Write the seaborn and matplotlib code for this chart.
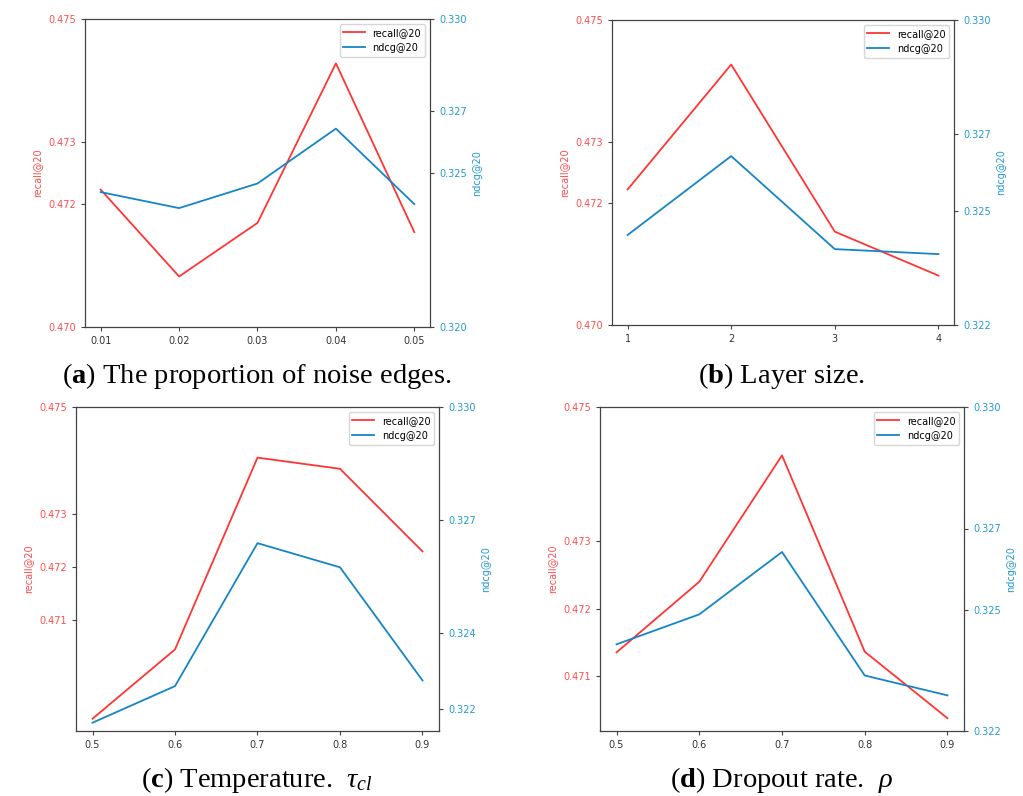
import matplotlib
matplotlib.use("Agg")
import matplotlib.pyplot as plt
import seaborn as sns

# Data
noise_x = [0.01, 0.02, 0.03, 0.04, 0.05]
noise_recall = [0.47223, 0.47082, 0.47169, 0.47428, 0.47154]
noise_ndcg = [0.32438, 0.32386, 0.32466, 0.32644, 0.32399]

layer_x = [1, 2, 3, 4]
layer_recall = [0.47222, 0.47427, 0.47153, 0.47081]
layer_ndcg = [0.32436, 0.32643, 0.32399, 0.32386]

temp_x = [0.5, 0.6, 0.7, 0.8, 0.9]
temp_recall = [0.46915, 0.47045, 0.47405, 0.47384, 0.47229]
temp_ndcg = [0.32163, 0.32260, 0.32639, 0.32575, 0.32275]

drop_x = [0.5, 0.6, 0.7, 0.8, 0.9]
drop_recall = [0.47135, 0.47240, 0.47428, 0.47136, 0.47037]
drop_ndcg = [0.32414, 0.32488, 0.32642, 0.32337, 0.32288]

captions = [r"($\mathbf{a}$) The proportion of noise edges.",
            r"($\mathbf{b}$) Layer size.",
            r"($\mathbf{c}$) Temperature.  $\tau_{cl}$",
            r"($\mathbf{d}$) Dropout rate.  $\rho$"]

left_ticks = [[0.470, 0.472, 0.473, 0.475], [0.470, 0.472, 0.473, 0.475],
              [0.471, 0.472, 0.473, 0.475], [0.471, 0.472, 0.473, 0.475]]
right_ticks = [[0.320, 0.325, 0.327, 0.330], [0.322, 0.325, 0.327, 0.330],
               [0.322, 0.324, 0.327, 0.330], [0.322, 0.325, 0.327, 0.330]]
left_lims = [(0.470, 0.475), (0.470, 0.475), (0.46892, 0.475), (0.47018, 0.475)]
right_lims = [(0.320, 0.330), (0.322, 0.330), (0.32141, 0.330), (0.322, 0.330)]

plt.rcParams['mathtext.fontset'] = 'custom'
plt.rcParams['mathtext.rm'] = 'Liberation Serif'
plt.rcParams['mathtext.it'] = 'Liberation Serif:italic'
plt.rcParams['mathtext.bf'] = 'Liberation Serif:bold'

RED_LINE, RED_TXT = '#ff3535', '#ff4d4d'
BLUE_LINE, BLUE_TXT = '#1585c7', '#2299d4'

fig = plt.figure(figsize=(10.23, 7.96), dpi=100)
W, H = 1023, 796

# axes boxes in pixels: left, top, right, bottom
boxes = [(85, 19, 430, 327), (612, 20, 954, 325),
         (76, 407, 439, 731), (600, 407, 964, 731)]
cap_pos = [(257, 376), (782, 376), (257, 780), (781, 780)]

panels = [(noise_x, noise_recall, noise_ndcg),
          (layer_x, layer_recall, layer_ndcg),
          (temp_x, temp_recall, temp_ndcg),
          (drop_x, drop_recall, drop_ndcg)]

for i, (xs, rec, nd) in enumerate(panels):
    l, t, r, b = boxes[i]
    ax = fig.add_axes([l / W, 1 - b / H, (r - l) / W, (b - t) / H])
    ax2 = ax.twinx()
    sns.lineplot(x=xs, y=rec, ax=ax, color=RED_LINE, linewidth=1.3, label='recall@20', legend=False)
    sns.lineplot(x=xs, y=nd, ax=ax2, color=BLUE_LINE, linewidth=1.3, label='ndcg@20', legend=False)

    ax.set_ylim(*left_lims[i])
    ax2.set_ylim(*right_lims[i])
    ax.set_yticks(left_ticks[i])
    ax.set_yticklabels([f"{v:.3f}" for v in left_ticks[i]])
    ax2.set_yticks(right_ticks[i])
    ax2.set_yticklabels([f"{v:.3f}" for v in right_ticks[i]])
    ax.set_xticks(xs)
    ax.set_xticklabels([str(v) for v in xs])

    ax.tick_params(axis='y', labelsize=7, labelcolor=RED_TXT, color='#444444', length=3)
    ax.tick_params(axis='x', labelsize=7, labelcolor='#333333', color='#444444', length=3)
    ax2.tick_params(axis='y', labelsize=7, labelcolor=BLUE_TXT, color='#444444', length=3)

    ax.set_ylabel('recall@20', color=RED_TXT, fontsize=7)
    ax2.set_ylabel('ndcg@20', color=BLUE_TXT, fontsize=7)
    ax.set_xlabel('')
    for sp in ax2.spines.values():
        sp.set_color('#444444')

    h1, l1 = ax.get_legend_handles_labels()
    h2, l2 = ax2.get_legend_handles_labels()
    ax2.legend(h1 + h2, l1 + l2, loc='upper right', fontsize=7, handlelength=2.2)

    cx, cy = cap_pos[i]
    fig.text(cx / W, 1 - cy / H, captions[i], ha='center', va='center',
             fontsize=20.5, family='Liberation Serif', color='black')

fig.savefig('out.png', dpi=100)
